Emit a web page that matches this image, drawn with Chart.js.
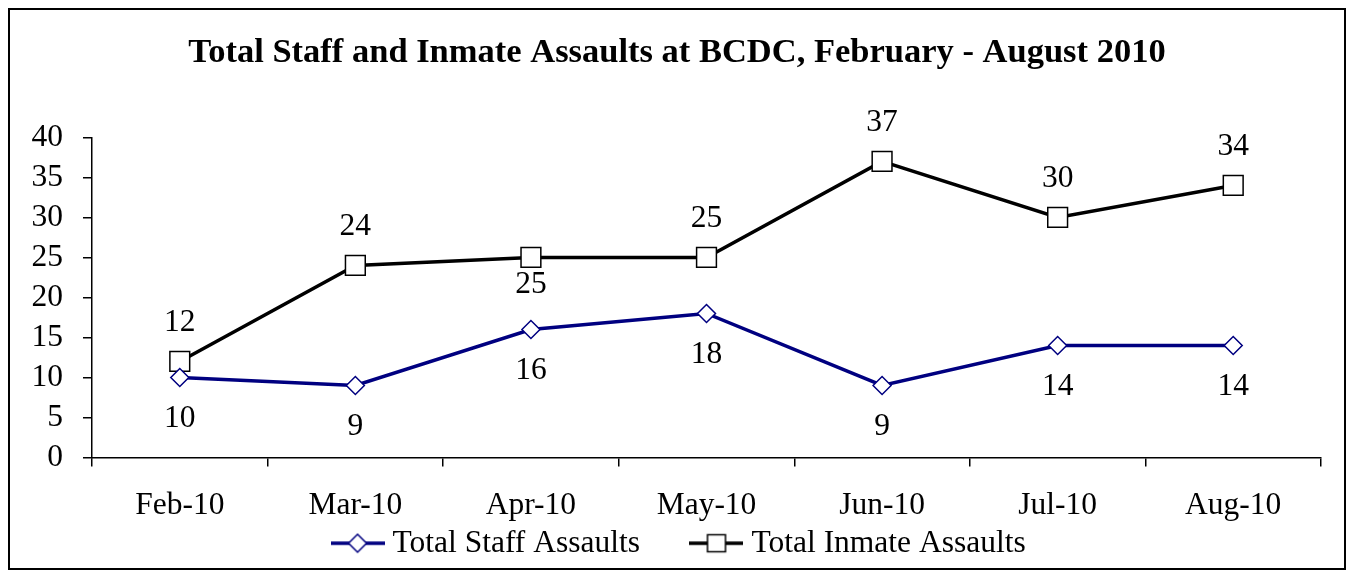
<!DOCTYPE html>
<html>
<head>
<meta charset="utf-8">
<script src="https://cdn.jsdelivr.net/npm/chart.js@4/dist/chart.umd.min.js"></script>
<style>
  html, body { margin: 0; padding: 0; background: #fff; }
  #wrap { width: 1354px; height: 578px; }
</style>
</head>
<body>
<div id="wrap"><canvas id="assaultsChart"></canvas></div>
<script>
// Chart data
const months = ['Feb-10', 'Mar-10', 'Apr-10', 'May-10', 'Jun-10', 'Jul-10', 'Aug-10'];
const staffAssaults = [10, 9, 16, 18, 9, 14, 14];
const inmateAssaults = [12, 24, 25, 25, 37, 30, 34];
// which inmate labels sit under the marker instead of above
const inmateLabelBelow = [false, false, true, false, false, false, false];
const yMin = 0;
const yMax = 40;
const yStep = 5;

const FONT = "'Liberation Serif', 'Times New Roman', serif";
const TEXT_SIZE = 31.5;
const NAVY = '#000080';
const LEGEND_GAP = '\u00a0'.repeat(6); // extra room between the two legend entries

// Legend swatch: short line with the marker in the middle
function legendSwatch(color, style) {
  const c = document.createElement('canvas');
  c.width = 54;
  c.height = 22;
  const g = c.getContext('2d');
  g.strokeStyle = color;
  g.lineWidth = 3.5;
  g.beginPath();
  g.moveTo(0, 11);
  g.lineTo(54, 11);
  g.stroke();
  g.fillStyle = '#fff';
  g.lineWidth = 1.5;
  g.beginPath();
  if (style === 'rect') {
    g.rect(18, 2.5, 18, 17);
  } else {
    g.moveTo(18, 11); g.lineTo(27, 2); g.lineTo(36, 11); g.lineTo(27, 20); g.closePath();
  }
  g.fill();
  g.stroke();
  return c;
}

// White background and outer frame; center title/legend on the whole canvas
const framePlugin = {
  id: 'frame',
  afterLayout(chart) {
    if (chart.titleBlock) {
      chart.titleBlock.left = 0;
      chart.titleBlock.right = chart.width;
      chart.titleBlock.width = chart.width;
    }
    if (chart.legend) {
      chart.legend.left = 10;
      chart.legend.right = chart.width;
      chart.legend.width = chart.width - 10;
    }
    // month labels overlap the legend box a little, don't clip them
    chart.scales.x.bottom = chart.height;
  },
  beforeDraw(chart) {
    const ctx = chart.ctx;
    ctx.save();
    ctx.fillStyle = '#fff';
    ctx.fillRect(0, 0, chart.width, chart.height);
    ctx.strokeStyle = '#000';
    ctx.lineWidth = 2;
    ctx.strokeRect(9, 9, chart.width - 18, chart.height - 18);
    ctx.restore();
  }
};

// Value labels next to each marker
const valueLabels = {
  id: 'valueLabels',
  afterDatasetsDraw(chart) {
    const ctx = chart.ctx;
    ctx.save();
    ctx.font = TEXT_SIZE + 'px ' + FONT;
    ctx.fillStyle = '#000';
    ctx.textAlign = 'center';
    ctx.textBaseline = 'middle';
    chart.data.datasets.forEach((ds, di) => {
      chart.getDatasetMeta(di).data.forEach((pt, i) => {
        let dy;
        if (di === 0) dy = 41;
        else dy = inmateLabelBelow[i] ? 27 : -39;
        ctx.fillText(ds.data[i], pt.x, pt.y + dy);
      });
    });
    ctx.restore();
  }
};

new Chart(document.getElementById('assaultsChart').getContext('2d'), {
  type: 'line',
  data: {
    labels: months,
    datasets: [{
      label: 'Total Staff Assaults',
      data: staffAssaults,
      borderColor: NAVY,
      borderWidth: 3.5,
      backgroundColor: '#fff',
      pointStyle: 'rectRot',
      pointRadius: 9,
      pointBorderWidth: 1.5,
      pointBackgroundColor: '#fff',
      pointBorderColor: NAVY,
      tension: 0
    }, {
      label: 'Total Inmate Assaults',
      data: inmateAssaults,
      borderColor: '#000',
      borderWidth: 3.5,
      backgroundColor: '#fff',
      pointStyle: 'rect',
      pointRadius: 14,
      pointBorderWidth: 1.5,
      pointBackgroundColor: '#fff',
      pointBorderColor: '#000',
      tension: 0
    }]
  },
  options: {
    responsive: true,
    maintainAspectRatio: false,
    animation: false,
    layout: { padding: { top: 10, left: 20, right: 33, bottom: 9 } },
    plugins: {
      title: {
        display: true,
        text: 'Total Staff and Inmate Assaults at BCDC, February - August 2010',
        color: '#000',
        font: { family: FONT, size: 34.5, weight: 'bold' },
        padding: { top: 22, bottom: 64 }
      },
      legend: {
        position: 'bottom',
        labels: {
          color: '#000',
          font: { family: FONT, size: TEXT_SIZE },
          usePointStyle: true,
          pointStyleWidth: 38.5,
          padding: 10,
          generateLabels(chart) {
            return chart.data.datasets.map((ds, i) => ({
              text: i === 0 ? ds.label + LEGEND_GAP : ds.label,
              pointStyle: legendSwatch(ds.borderColor, ds.pointStyle),
              datasetIndex: i,
              hidden: false,
              lineWidth: 0,
              fontColor: '#000'
            }));
          }
        }
      },
      tooltip: { enabled: false }
    },
    scales: {
      x: {
        offset: true,
        afterFit(scale) { scale.height = 60; },
        grid: { offset: true, drawOnChartArea: false, drawTicks: true, tickLength: 9, color: '#000', lineWidth: 1.5 },
        border: { display: true, color: '#000', width: 1.5 },
        ticks: { color: '#000', font: { family: FONT, size: TEXT_SIZE }, padding: 20, maxRotation: 0 }
      },
      y: {
        min: yMin,
        max: yMax,
        afterFit(scale) { scale.width = 72; },
        grid: { drawOnChartArea: false, drawTicks: true, tickLength: 9, color: '#000', lineWidth: 1.5 },
        border: { display: true, color: '#000', width: 1.5 },
        ticks: { stepSize: yStep, autoSkip: false, color: '#000', font: { family: FONT, size: TEXT_SIZE }, padding: 20 }
      }
    }
  },
  plugins: [framePlugin, valueLabels]
});
</script>
</body>
</html>
